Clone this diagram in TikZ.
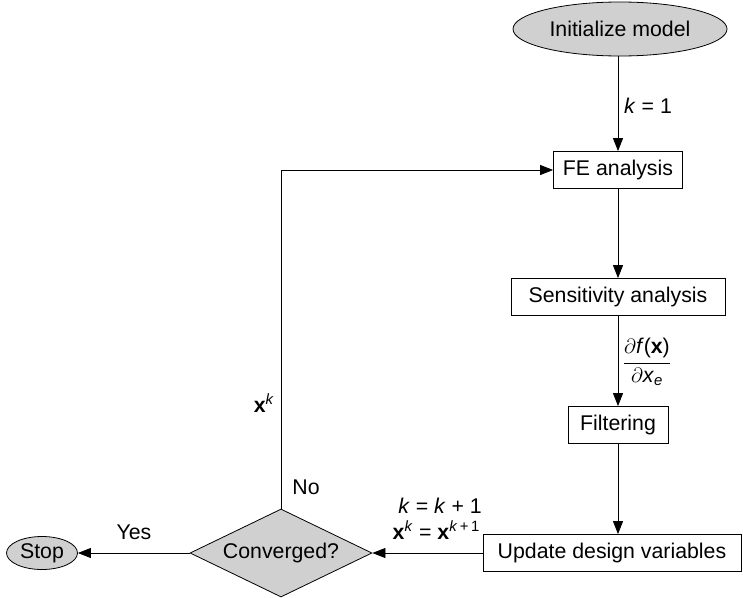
\documentclass[tikz,border=0pt]{standalone}
\usepackage{fontspec}
\setmainfont{Liberation Sans}
\usetikzlibrary{shapes.geometric,arrows.meta}
\definecolor{shade}{RGB}{208,208,208}
\begin{document}
\begin{tikzpicture}[x=1pt,y=-1pt,
  font=\fontsize{21.3}{22}\selectfont,
  procbox/.style={draw, line width=0.8pt, inner sep=0pt, minimum height=37pt},
  terminal/.style={ellipse, draw, line width=0.8pt, fill=shade, inner sep=0pt},
  decision/.style={diamond, draw, line width=0.8pt, fill=shade, inner sep=0pt,
                   minimum width=182pt, minimum height=88pt, aspect=2.07},
  flow/.style={draw, line width=0.8pt, -{Triangle[length=13pt,width=10pt]}},
  lbl/.style={inner sep=0pt}]
\useasboundingbox (0,0) rectangle (743,597);

% process chain on the right
\node[terminal, minimum width=214pt, minimum height=54pt] (init) at (620,29) {Initialize model};
\node[procbox, minimum width=129pt] (fe) at (618,170) {FE analysis};
\node[procbox, minimum width=214pt] (sens) at (618,297) {Sensitivity analysis};
\node[procbox, minimum width=100pt] (filt) at (618,425) {Filtering};
\node[procbox, minimum width=258pt] (upd) at (612,553) {Update design variables};

% decision and end
\node[decision] (conv) at (281,553) {Converged?};
\node[terminal, minimum width=71pt, minimum height=33pt] (stop) at (42,553) {Stop};

% connectors
\draw[flow] (fe |- init.south) -- (fe.north);
\draw[flow] (fe) -- (sens);
\draw[flow] (sens) -- (filt);
\draw[flow] (filt) -- (filt |- upd.north);
\draw[flow] (upd.west) -- (conv.east);
\draw[flow] (conv.west) -- (stop.east);
\draw[flow] (conv.north) -- (conv.north |- fe.west) -- (fe.west);

% connector labels
\node[lbl, anchor=west] (k1) at (624,106) {\textit{k} = 1};
\node[lbl] (dfdx) at (647,362)
  {$\displaystyle\frac{\mbox{$\partial$\textit{f}(\textbf{x})}}{\mbox{$\partial$\textit{x}\textsubscript{\textit{e}}}}$};
\node[lbl] (yes) at (134,532) {Yes};
\node[lbl] (no) at (306,487) {No};
\node[lbl] (xk) at (264,403) {\textbf{x}\textsuperscript{\textit{k}}};
\node[lbl, anchor=base east] (kinc) at (482,513) {\textit{k} = \textit{k} + 1};
\node[lbl, anchor=base east] (xupd) at (480,539)
  {\textbf{x}\textsuperscript{\textit{k}} = \textbf{x}\textsuperscript{\textit{k}\,+\,1}};
\end{tikzpicture}
\end{document}
